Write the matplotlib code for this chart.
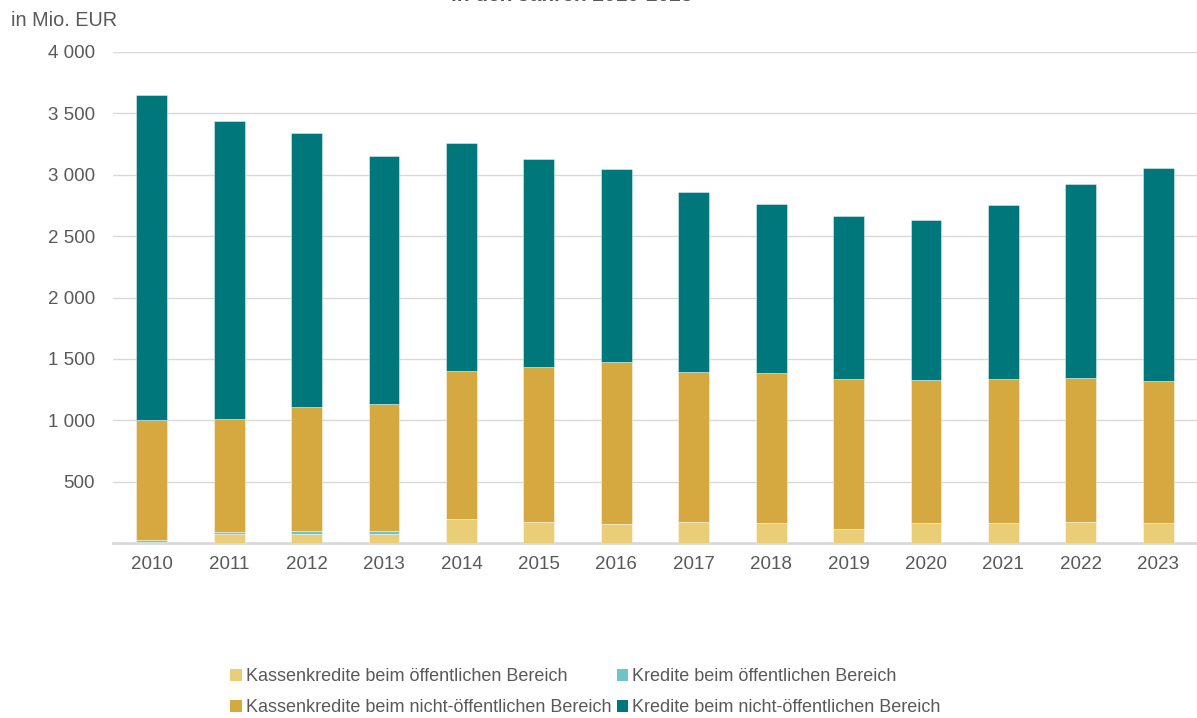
import numpy as np
import matplotlib.pyplot as plt
from matplotlib.patches import Patch

plt.rcParams['font.family'] = ['Liberation Sans', 'DejaVu Sans']

# values in Mio. EUR
years = ["2010", "2011", "2012", "2013", "2014", "2015", "2016",
         "2017", "2018", "2019", "2020", "2021", "2022", "2023"]
kk_oeff = [5, 70, 70, 70, 196, 168, 152, 168, 163, 114, 163, 163, 171, 160]
kred_oeff = [20, 20, 25, 25, 3, 3, 5, 3, 3, 3, 3, 3, 3, 3]
kk_nicht = [977, 920, 1013, 1037, 1202, 1263, 1318, 1222, 1219, 1219, 1162, 1170, 1170, 1157]
kred_nicht = [2648, 2428, 2232, 2021, 1858, 1694, 1572, 1467, 1377, 1328, 1303, 1418, 1581, 1735]

labels = ["Kassenkredite beim öffentlichen Bereich",
          "Kredite beim öffentlichen Bereich",
          "Kassenkredite beim nicht-öffentlichen Bereich",
          "Kredite beim nicht-öffentlichen Bereich"]
colors = ["#E9CD77", "#6EC4C6", "#D6A840", "#00777B"]

series = [kk_oeff, kred_oeff, kk_nicht, kred_nicht]

fig = plt.figure(figsize=(11.97, 7.18), dpi=100)
ax = fig.add_axes([0.0944, 0.2437, 0.9056, 0.6839])

x = np.arange(len(years))
bottom = np.zeros(len(years))
for vals, col in zip(series, colors):
    ax.bar(x, vals, width=0.4, bottom=bottom, color=col,
           edgecolor=(1, 1, 1, 0.5), linewidth=0.6, zorder=3)
    bottom += np.array(vals)

ax.set_xlim(-0.5, len(years) - 0.5)
ax.set_ylim(0, 4000)
yt = np.arange(500, 4001, 500)
ax.set_yticks(yt)
ax.set_yticklabels([f"{v:,}".replace(",", " ") for v in yt])
ax.set_xticks(x)
ax.set_xticklabels(years)
ax.grid(axis='y', color='#D9D9D9', linewidth=1, zorder=0)
for s in ['top', 'right', 'left']:
    ax.spines[s].set_visible(False)
ax.spines['bottom'].set_color('#D9D9D9')
ax.spines['bottom'].set_linewidth(2)
ax.tick_params(axis='both', length=0, labelsize=13.5, colors='#595959')
ax.tick_params(axis='y', pad=13)
ax.tick_params(axis='x', pad=9)

fig.text(0.009, 0.972, "in Mio. EUR", fontsize=14.3, color='#595959', va='center')
# title sits mostly above the visible area, as in the source image
fig.text(0.478, 0.9985, "in den Jahren 2010-2023", fontsize=15, fontweight='bold',
         color='#595959', ha='center', va='baseline')

handles = [Patch(facecolor=c, label=l) for c, l in zip(colors, labels)]
order = [0, 2, 1, 3]
fig.legend([handles[i] for i in order], [labels[i] for i in order],
           ncol=2, loc='center', bbox_to_anchor=(0.489, 0.036), frameon=False,
           fontsize=13, handlelength=0.65, handleheight=0.65, handletextpad=0.2,
           columnspacing=0.3, labelspacing=0.8, labelcolor='#595959')

fig.savefig("out.png", dpi=100)
